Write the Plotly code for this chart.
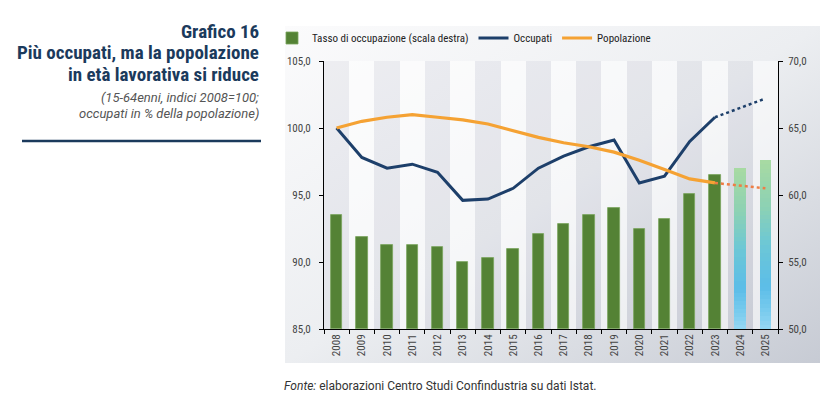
import base64
import plotly.graph_objects as go

# ---------------- data ----------------
anni = [str(y) for y in range(2008, 2026)]
tasso = [58.5, 56.9, 56.3, 56.3, 56.1, 55.0, 55.3, 56.0, 57.1, 57.8,
         58.5, 59.0, 57.5, 58.2, 60.1, 61.5, 62.0, 62.6]
n_storici = 16  # 2008-2023 observed, 2024-2025 forecast

occupati = [100.0, 97.8, 97.0, 97.3, 96.7, 94.6, 94.7, 95.5, 97.0, 97.9,
            98.6, 99.1, 95.9, 96.4, 99.0, 100.8]
occupati_prev = [100.8, 101.5, 102.2]          # 2023-2025
popolazione = [100.0, 100.5, 100.8, 101.0, 100.8, 100.6, 100.3, 99.8, 99.3, 98.9,
               98.6, 98.2, 97.6, 96.9, 96.2, 95.9]
popolazione_prev = [95.9, 95.7, 95.5]          # 2023-2025

y_left_ticks = [85, 90, 95, 100, 105]
y_right_ticks = [50, 55, 60, 65, 70]

# ---------------- styles ----------------
NAVY = "#1d3f6a"
ORANGE = "#f5a233"
ORANGE_DOT = "#ee7d45"
GREEN = "#548235"
TITLE_C = "#1b3a5c"
FONT = "Roboto Condensed, Liberation Sans Narrow, Roboto, sans-serif"

anni_storici = anni[:n_storici]
anni_prev = anni[n_storici - 1:]
anni_fc = anni[n_storici:]
tasso_fc = tasso[n_storici:]
base_r = y_right_ticks[0]
top_r = y_right_ticks[-1]

fig = go.Figure()

# background stripes (alternate years), spanning the right-axis range
stripe_colors = ["rgba(160,166,182,0.13)" if i % 2 == 0 else "rgba(255,255,255,0.55)"
                 for i in range(len(anni))]
fig.add_trace(go.Bar(x=anni, y=[top_r - base_r] * len(anni), base=[base_r] * len(anni),
                     width=1.0, marker=dict(color=stripe_colors, line=dict(width=0)),
                     showlegend=False, hoverinfo="skip", yaxis="y"))

# observed employment rate bars
fig.add_trace(go.Bar(x=anni_storici, y=[v - base_r for v in tasso[:n_storici]],
                     base=[base_r] * n_storici, width=0.45,
                     marker=dict(color=GREEN, line=dict(color="#79a45c", width=0.8)),
                     name="Tasso di occupazione (scala destra)", yaxis="y"))

# forecast bars with vertical gradient (stacked thin segments)
stops = [(0.0, (150, 214, 242)), (0.1, (122, 204, 238)), (0.25, (92, 189, 232)),
         (0.5, (108, 199, 214)), (0.72, (140, 209, 180)), (1.0, (168, 218, 162))]


def grad(t):
    for (t0, c0), (t1, c1) in zip(stops[:-1], stops[1:]):
        if t0 <= t <= t1:
            f = (t - t0) / (t1 - t0)
            return "rgb(%d,%d,%d)" % tuple(round(a + (b - a) * f) for a, b in zip(c0, c1))
    return "rgb(%d,%d,%d)" % stops[-1][1]


N = 40
for k in range(N):
    fig.add_trace(go.Bar(
        x=anni_fc,
        base=[base_r + (v - base_r) * k / N for v in tasso_fc],
        y=[(v - base_r) / N * 1.02 for v in tasso_fc],
        width=0.45, marker=dict(color=grad((k + 0.5) / N), line=dict(width=0)),
        showlegend=False, hoverinfo="skip", yaxis="y"))

# lines (left axis)
fig.add_trace(go.Scatter(x=anni_storici, y=occupati, mode="lines", name="Occupati",
                         line=dict(color=NAVY, width=3), yaxis="y2"))
fig.add_trace(go.Scatter(x=anni_storici, y=popolazione, mode="lines", name="Popolazione",
                         line=dict(color=ORANGE, width=3.2), yaxis="y2"))
fig.add_trace(go.Scatter(x=anni_prev, y=occupati_prev, mode="lines", showlegend=False,
                         line=dict(color=NAVY, width=2.5, dash="dot"), yaxis="y2"))
fig.add_trace(go.Scatter(x=anni_prev, y=popolazione_prev, mode="lines", showlegend=False,
                         line=dict(color=ORANGE_DOT, width=2.5, dash="dot"), yaxis="y2"))

# panel gradient background
svg = ('<svg xmlns="http://www.w3.org/2000/svg" width="535" height="337" '
       'preserveAspectRatio="none"><defs><linearGradient id="g" x1="0" y1="0" x2="1" y2="1">'
       '<stop offset="0" stop-color="#fbfbfc"/><stop offset="0.5" stop-color="#eceef1"/>'
       '<stop offset="1" stop-color="#c7cbd4"/></linearGradient></defs>'
       '<rect width="535" height="337" fill="url(#g)"/></svg>')
src = "data:image/svg+xml;base64," + base64.b64encode(svg.encode()).decode()

W, H = 828, 406
L, R, T, B = 324, 50, 61, 77
pw, ph = W - L - R, H - T - B


def px(x):
    return (x - L) / pw


def py(y):
    return (H - B - y) / ph


fig.update_layout(
    width=W, height=H, margin=dict(l=L, r=R, t=T, b=B),
    paper_bgcolor="white", plot_bgcolor="rgba(0,0,0,0)",
    barmode="overlay", bargap=0, separators=",.",
    font=dict(family=FONT, size=11, color="#333333"),
    images=[dict(source=src, xref="paper", yref="paper", x=px(285), y=py(26),
                 sizex=535 / pw, sizey=337 / ph, sizing="stretch",
                 xanchor="left", yanchor="top", layer="below")],
    xaxis=dict(type="category", categoryorder="array", categoryarray=anni,
               tickangle=-90, showline=True, linecolor="black", linewidth=1,
               ticks="outside", tickson="boundaries", ticklen=4, tickcolor="black",
               showgrid=False, tickfont=dict(size=11, color="#444")),
    yaxis=dict(side="right", range=[y_right_ticks[0], y_right_ticks[-1]],
               tickvals=y_right_ticks, tickformat=".1f", showline=True,
               linecolor="black", linewidth=1, ticks="outside", ticklen=4,
               tickcolor="black", showgrid=False, zeroline=False, ticklabelstandoff=3,
               tickfont=dict(size=11, color="#444")),
    yaxis2=dict(side="left", overlaying="y", range=[y_left_ticks[0], y_left_ticks[-1]],
                tickvals=y_left_ticks, tickformat=".1f", showline=True,
                linecolor="black", linewidth=1, ticks="outside", ticklen=4,
                tickcolor="black", showgrid=False, zeroline=False, ticklabelstandoff=6,
                tickfont=dict(size=11, color="#444")),
    legend=dict(orientation="h", x=px(272), y=py(38), xanchor="left", yanchor="middle",
                bgcolor="rgba(0,0,0,0)", font=dict(size=11, color="#222"),
                itemwidth=30, tracegroupgap=0, traceorder="normal"),
    showlegend=True,
)

title_font = dict(family=FONT, size=19, color=TITLE_C)
xr = px(261)
fig.add_annotation(text="<b>Grafico 16</b>", xref="paper", yref="paper", x=xr, y=py(31),
                   xanchor="right", yanchor="middle", showarrow=False, font=title_font)
fig.add_annotation(text="<b>Più occupati, ma la popolazione</b>", xref="paper", yref="paper",
                   x=xr, y=py(53), xanchor="right", yanchor="middle", showarrow=False,
                   font=title_font)
fig.add_annotation(text="<b>in età lavorativa si riduce</b>", xref="paper", yref="paper",
                   x=xr, y=py(74), xanchor="right", yanchor="middle", showarrow=False,
                   font=title_font)
sub_font = dict(family="Roboto, sans-serif", size=13, color="#555555")
fig.add_annotation(text="<i>(15-64enni, indici 2008=100;</i>", xref="paper", yref="paper",
                   x=xr, y=py(97), xanchor="right", yanchor="middle", showarrow=False,
                   font=sub_font)
fig.add_annotation(text="<i>occupati in % della popolazione)</i>", xref="paper", yref="paper",
                   x=xr, y=py(113), xanchor="right", yanchor="middle", showarrow=False,
                   font=sub_font)
fig.add_shape(type="line", xref="paper", yref="paper", x0=px(22), x1=px(261),
              y0=py(141), y1=py(141), line=dict(color=TITLE_C, width=2.5))
fig.add_annotation(text="<i>Fonte:</i> elaborazioni Centro Studi Confindustria su dati Istat.",
                   xref="paper", yref="paper", x=px(282), y=py(386), xanchor="left",
                   yanchor="middle", showarrow=False,
                   font=dict(family="Roboto, sans-serif", size=12, color="#333333"))

fig.write_html("out.html", config={"displayModeBar": False},
               post_script="document.body.style.margin='0';document.body.style.overflow='hidden';")
